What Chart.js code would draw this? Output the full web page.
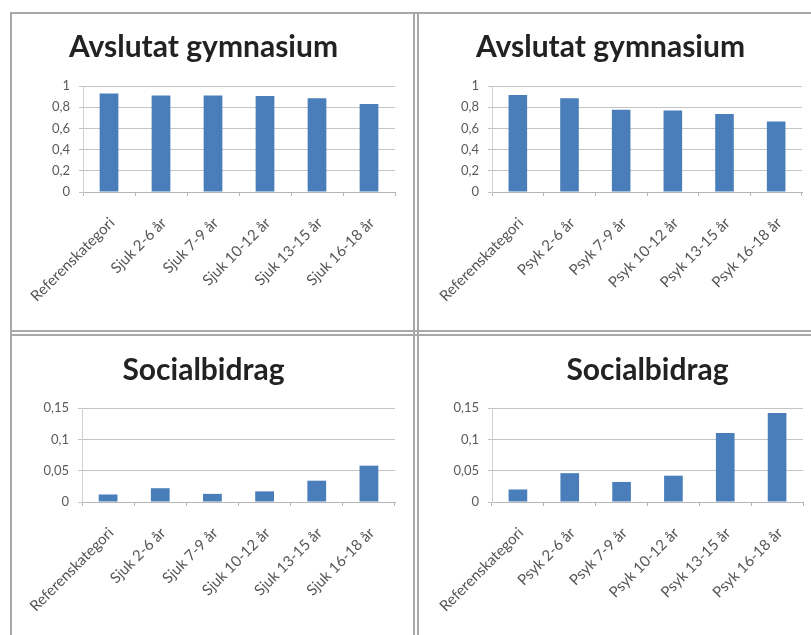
<!DOCTYPE html>
<html>
<head>
<meta charset="utf-8">
<script src="https://cdn.jsdelivr.net/npm/chart.js@4.4.1/dist/chart.umd.min.js"></script>
<style>
  html, body { margin: 0; padding: 0; background: #fff; }
  #sheet { position: relative; width: 811px; height: 635px; overflow: hidden; background: #fff; }
  #sheet canvas { position: absolute; }
  .rule { position: absolute; background: #a8a8a8; }
</style>
</head>
<body>
<div id="sheet">
  <div class="rule" style="left:10px;top:12px;width:801px;height:2px"></div>
  <div class="rule" style="left:10px;top:12px;width:2px;height:623px"></div>
  <div class="rule" style="left:413px;top:12px;width:2px;height:623px"></div>
  <div class="rule" style="left:417px;top:12px;width:2px;height:623px"></div>
  <div class="rule" style="left:10px;top:330px;width:801px;height:2px"></div>
  <div class="rule" style="left:10px;top:334px;width:801px;height:2px"></div>

  <canvas id="sjukGym" width="400" height="316" style="left:12px;top:14px"></canvas>
  <canvas id="psykGym" width="392" height="316" style="left:419px;top:14px"></canvas>
  <canvas id="sjukBid" width="400" height="298" style="left:12px;top:337px"></canvas>
  <canvas id="psykBid" width="392" height="298" style="left:419px;top:337px"></canvas>
</div>

<script>
// categories
const sjukLabels = ['Referenskategori', 'Sjuk 2-6 år', 'Sjuk 7-9 år', 'Sjuk 10-12 år', 'Sjuk 13-15 år', 'Sjuk 16-18 år'];
const psykLabels = ['Referenskategori', 'Psyk 2-6 år', 'Psyk 7-9 år', 'Psyk 10-12 år', 'Psyk 13-15 år', 'Psyk 16-18 år'];

// shares per group
const sjukGymnasium = [0.93, 0.91, 0.91, 0.905, 0.885, 0.83];
const psykGymnasium = [0.915, 0.885, 0.775, 0.77, 0.735, 0.665];
const sjukBidrag = [0.012, 0.022, 0.013, 0.017, 0.034, 0.058];
const psykBidrag = [0.020, 0.046, 0.032, 0.042, 0.110, 0.142];

// y tick values
const gymnasiumTicks = [0, 0.2, 0.4, 0.6, 0.8, 1];
const bidragTicks = [0, 0.05, 0.1, 0.15];

const titleGym = 'Avslutat gymnasium';
const titleBid = 'Socialbidrag';

function commaNumber(v) {
	return String(v).replace('.', ',');
}

function makeChart(id, title, labels, values, ticks, box) {
	const ctx = document.getElementById(id).getContext('2d');
	return new Chart(ctx, {
		type: 'bar',
		data: {
			labels: labels,
			datasets: [{
				data: values,
				backgroundColor: '#4A7EBB',
				borderWidth: 0,
				categoryPercentage: 1,
				barPercentage: 0.36
			}]
		},
		options: {
			responsive: false,
			animation: false,
			layout: { padding: { left: 0, right: box.padRight, top: 0, bottom: 0 } },
			plugins: {
				legend: { display: false },
				tooltip: { enabled: false },
				title: {
					display: true,
					text: title,
					fullSize: box.titleFull,
					color: '#222',
					font: { family: 'Lato', size: 30, weight: 'bold', lineHeight: 1.2 },
					padding: { top: box.titleTop, bottom: box.titleBottom }
				}
			},
			scales: {
				x: {
					grid: {
						offset: true,
						drawOnChartArea: false,
						drawTicks: true,
						tickLength: 4,
						color: '#b5b5b5'
					},
					border: { color: '#b5b5b5' },
					ticks: {
						autoSkip: false,
						minRotation: 45,
						maxRotation: 45,
						padding: 18,
						labelOffset: 3,
						color: '#555',
						font: { family: 'Lato', size: 15 }
					},
					afterFit: function (scale) {
						// keep the long rotated labels from pushing the plot area
						scale.height = box.xHeight;
						scale.paddingLeft = 0;
						scale.paddingRight = 0;
					}
				},
				y: {
					min: ticks[0],
					max: ticks[ticks.length - 1],
					afterBuildTicks: function (scale) {
						scale.ticks = ticks.map(v => ({ value: v }));
					},
					grid: { color: '#c4c4c4', tickLength: 4 },
					border: { color: '#d0d0d0' },
					ticks: {
						padding: 9,
						color: '#5a5a5a',
						font: { family: 'Lato', size: 13 },
						callback: v => commaNumber(v)
					},
					afterFit: function (scale) { scale.width = box.yWidth; }
				}
			}
		}
	});
}

makeChart('sjukGym', titleGym, sjukLabels, sjukGymnasium, gymnasiumTicks,
	{ yWidth: 71, padRight: 17, xHeight: 138, titleTop: 15, titleBottom: 21, titleFull: true });
makeChart('psykGym', titleGym, psykLabels, psykGymnasium, gymnasiumTicks,
	{ yWidth: 73, padRight: 9, xHeight: 138, titleTop: 15, titleBottom: 21, titleFull: true });
makeChart('sjukBid', titleBid, sjukLabels, sjukBidrag, bidragTicks,
	{ yWidth: 70, padRight: 17, xHeight: 133, titleTop: 15, titleBottom: 20, titleFull: true });
makeChart('psykBid', titleBid, psykLabels, psykBidrag, bidragTicks,
	{ yWidth: 73, padRight: 8, xHeight: 133, titleTop: 15, titleBottom: 20, titleFull: false });
</script>
</body>
</html>
